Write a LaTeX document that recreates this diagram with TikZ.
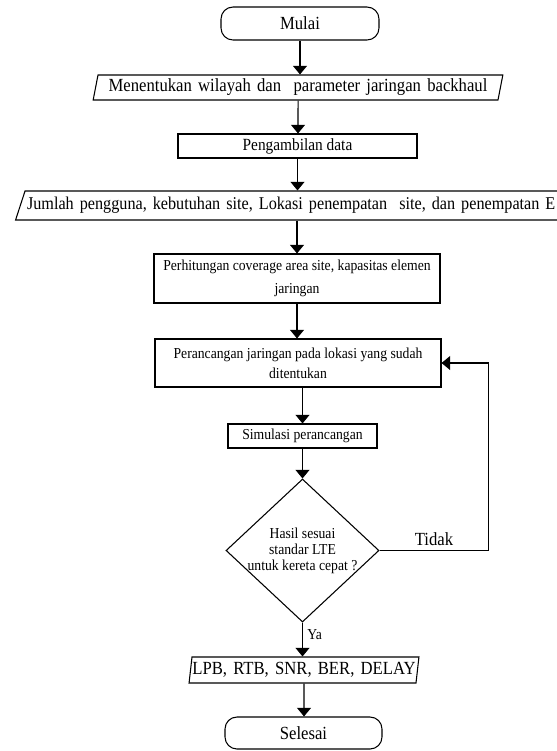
\documentclass[tikz,border=0pt]{standalone}
\usepackage{fontspec}
\setmainfont[FakeStretch=0.9]{Liberation Serif}
\usetikzlibrary{shapes.geometric,arrows.meta}
\newcommand{\hurufbesar}{\fontsize{13.9}{16}\selectfont}
\newcommand{\hurufkecil}{\fontsize{11.4}{15}\selectfont}

\begin{document}
\begin{tikzpicture}[x=0.75pt, y=-0.75pt, line width=0.8pt,
    terminal/.style={draw=black, rectangle, rounded corners=9pt, inner sep=0pt, font=\hurufbesar},
    data/.style 2 args={draw=black, trapezium, trapezium left angle=#1, trapezium right angle=#2,
        trapezium stretches=true, inner xsep=0pt, inner ysep=0pt, align=center, font=\hurufbesar},
    proses/.style={draw=black, rectangle, inner sep=0pt, align=center, font=\hurufkecil},
    keputusan/.style={draw=black, diamond, minimum width=114.75pt, minimum height=107.25pt, inner sep=0pt},
    alur/.style={-{Triangle[width=10.5pt,length=6.5pt]}}]
    \useasboundingbox (0,0) rectangle (557,751);
    \fill[white] (0,0) rectangle (557,751);
    \clip (0,0) rectangle (557,751);

    \node[terminal, minimum width=118.5pt, minimum height=24.75pt] (mulai) at (300,23.5) {Mulai};
    \node[data={74}{106}, text width=300pt, minimum height=18.75pt] (tentukan) at (298,87.5)
        {Menentukan wilayah dan\ \ parameter jaringan backhaul};
    \node[proses, font=\fontsize{12.8}{15}\selectfont, minimum width=179.25pt, minimum height=18pt] (ambil) at (297.5,146)
        {Pengambilan data};
    \node[data={60}{120}, font=\fontsize{13.5}{16}\selectfont, text width=430pt, align=left, inner xsep=1.5pt,
        minimum height=21.75pt] (jumlah) at (313.7,205.5)
        {Jumlah pengguna, kebutuhan site, Lokasi penempatan\ \ site, dan penempatan E};
    \node[proses, font=\fontsize{11.4}{17}\selectfont, minimum width=214.5pt, minimum height=36.75pt] (hitung) at (297,278.5)
        {Perhitungan coverage area site, kapasitas elemen\\jaringan};
    \node[proses, minimum width=214.5pt, minimum height=36pt] (rancang) at (298,363)
        {Perancangan jaringan pada lokasi yang sudah\\ditentukan};
    \node[proses, minimum width=111.75pt, minimum height=18pt] (simulasi) at (302.5,436) {Simulasi perancangan};
    \node[keputusan, label={[font=\fontsize{11.4}{12}\selectfont, align=center]center:Hasil sesuai\\standar LTE\\untuk kereta cepat ?}]
        (cek) at (302.5,550.5) {};
    \node[data={79}{101}, text width=168pt, minimum height=19.5pt] (hasil) at (304,670) {LPB, RTB, SNR, BER, DELAY};
    \node[terminal, minimum width=117.75pt, minimum height=24pt] (selesai) at (303.5,733) {Selesai};

    \draw[alur] (mulai) -- (mulai |- tentukan.north);
    \draw[alur] (tentukan) -- (tentukan |- ambil.north);
    \draw[alur] (ambil) -- (ambil |- jumlah.north);
    \draw[alur] (hitung |- jumlah.south) -- (hitung);
    \draw[alur] (hitung) -- (hitung |- rancang.north);
    \draw[alur] (simulasi |- rancang.south) -- (simulasi);
    \draw[alur] (simulasi) -- (cek);
    \draw[alur] (cek) -- node[right, pos=0.35, font=\hurufkecil] {Ya} (cek |- hasil.north);
    \draw[alur] (hasil) -- (hasil |- selesai.north);
    \draw[alur] (cek.east) -- node[above, font=\hurufbesar] {Tidak} ++(109,0) |- (rancang.east);
\end{tikzpicture}
\end{document}
